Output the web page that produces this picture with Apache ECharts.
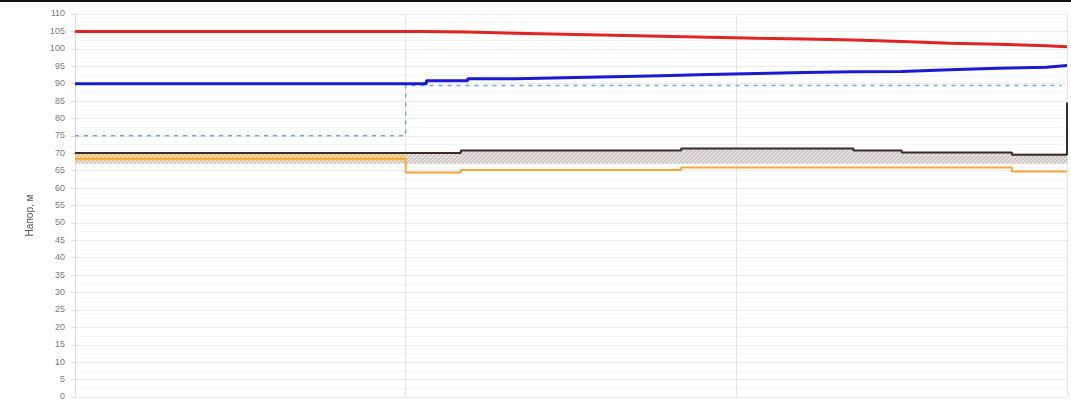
<!DOCTYPE html>
<html>
<head>
<meta charset="utf-8">
<script src="https://cdn.jsdelivr.net/npm/echarts@6/dist/echarts.min.js"></script>
<style>
  html, body { margin: 0; padding: 0; background: #fff; }
  #frame { width: 1071px; height: 407px; border-top: 2px solid #111; }
  #chart { width: 1071px; height: 407px; }
</style>
</head>
<body>
<div id="frame"><div id="chart"></div></div>
<script>
// time axis (hours), step breakpoints
const redTimes = [0, 25, 28.5, 32, 35.5, 39, 42.5, 46, 49.5, 53, 56.5, 60, 63.5, 67, 70.5, 72];
const redValues = [105, 104.8, 104.5, 104.2, 103.9, 103.6, 103.3, 103.0, 102.8, 102.5, 102.1, 101.6, 101.3, 100.9, 100.6, 100.6];

const blueTimes = [0, 25.5, 28.5, 32, 35.5, 39, 42.5, 46, 49.5, 53, 56.5, 60, 63.5, 67, 70.5, 72];
const blueValues = [90, 90.8, 91.4, 91.7, 92.0, 92.3, 92.6, 92.9, 93.2, 93.4, 93.5, 94.0, 94.4, 94.7, 95.2, 95.2];

const dashTimes = [0, 24, 71.6];
const dashValues = [75, 89.5, 89.5];

const darkTimes = [0, 28, 44, 56.5, 60, 68, 72, 72];
const darkValues = [70.1, 70.8, 71.4, 70.8, 70.2, 69.6, 69.6, 84.6];

// hatched band under the dark line
const bandTimes = [0, 28, 44, 56.5, 60, 68, 72];
const bandUpper = [70.1, 70.8, 71.4, 70.8, 70.2, 69.6, 69.6];
const bandLower = 67;

const orangeBandTimes = [0, 24];
const orangeBandUpper = [69.7, 69.7];
const orangeBandLower = 67.8;

const orangeTimes = [0, 24, 28, 44, 68, 72];
const orangeValues = [68.4, 64.5, 65.2, 65.9, 64.8, 64.8];

const yTicks = { min: 0, max: 110, step: 5 };

function pairs(xs, ys) { return xs.map((x, i) => [x, ys[i]]); }

function hatch(bg, fg) {
  const c = document.createElement('canvas');
  c.width = 4; c.height = 4;
  const g = c.getContext('2d');
  g.fillStyle = bg; g.fillRect(0, 0, 4, 4);
  g.fillStyle = fg;
  for (let i = 0; i < 4; i++) g.fillRect(i, 3 - i, 1, 1);
  return { image: c, repeat: 'repeat' };
}

const chart = echarts.init(document.getElementById('chart'));

const stepLine = (name, xs, ys, color, width, extra) => Object.assign({
  name, type: 'line', step: 'end', showSymbol: false, symbol: 'none',
  data: pairs(xs, ys),
  lineStyle: { color, width },
  itemStyle: { color },
  animation: false
}, extra || {});

chart.setOption({
  animation: false,
  grid: { left: 75, right: 4, top: 12, bottom: 12 },
  xAxis: {
    type: 'value', min: 0, max: 72, interval: 24,
    axisLine: { show: false }, axisTick: { show: false }, axisLabel: { show: false },
    splitLine: { show: true, lineStyle: { color: '#e4e4e4', width: 1 } }
  },
  yAxis: {
    type: 'value', min: yTicks.min, max: yTicks.max, interval: yTicks.step,
    name: 'Напор, м', nameLocation: 'middle', nameGap: 40, nameRotate: 90,
    nameTextStyle: { color: '#555', fontSize: 10, fontFamily: 'Liberation Sans', padding: [0, 20, 0, 0] },
    axisLine: { show: true, lineStyle: { color: '#dcdcdc' } },
    axisTick: { show: true, length: 4, lineStyle: { color: '#dcdcdc' } },
    axisLabel: { color: '#777', fontSize: 9, fontFamily: 'Liberation Sans', margin: 10 },
    splitLine: { show: true, lineStyle: { color: '#ececec' } },
    minorTick: { show: false, splitNumber: 2 },
    minorSplitLine: { show: true, lineStyle: { color: '#f5f5f5' } }
  },
  series: [
    stepLine('band', bandTimes, bandUpper, 'transparent', 0, {
      lineStyle: { width: 0 },
      areaStyle: { origin: bandLower, color: hatch('rgba(218,212,212,0.75)', 'rgba(175,165,165,0.8)'), opacity: 1 }
    }),
    stepLine('orangeBand', orangeBandTimes, orangeBandUpper, 'transparent', 0, {
      lineStyle: { width: 0 },
      areaStyle: { origin: orangeBandLower, color: hatch('rgba(248,215,150,0.8)', 'rgba(228,170,70,0.85)'), opacity: 1 }
    }),
    stepLine('orange', orangeTimes, orangeValues, '#f2a73a', 2),
    stepLine('dashed', dashTimes, dashValues, '#6aa6e0', 1.5, { lineStyle: { color: '#6aa6e0', width: 1.5, type: [4, 5] } }),
    stepLine('dark', darkTimes, darkValues, '#3b2a2a', 2),
    stepLine('blue', blueTimes, blueValues, '#1a1ad0', 3),
    stepLine('red', redTimes, redValues, '#e02424', 3)
  ]
});
</script>
</body>
</html>
